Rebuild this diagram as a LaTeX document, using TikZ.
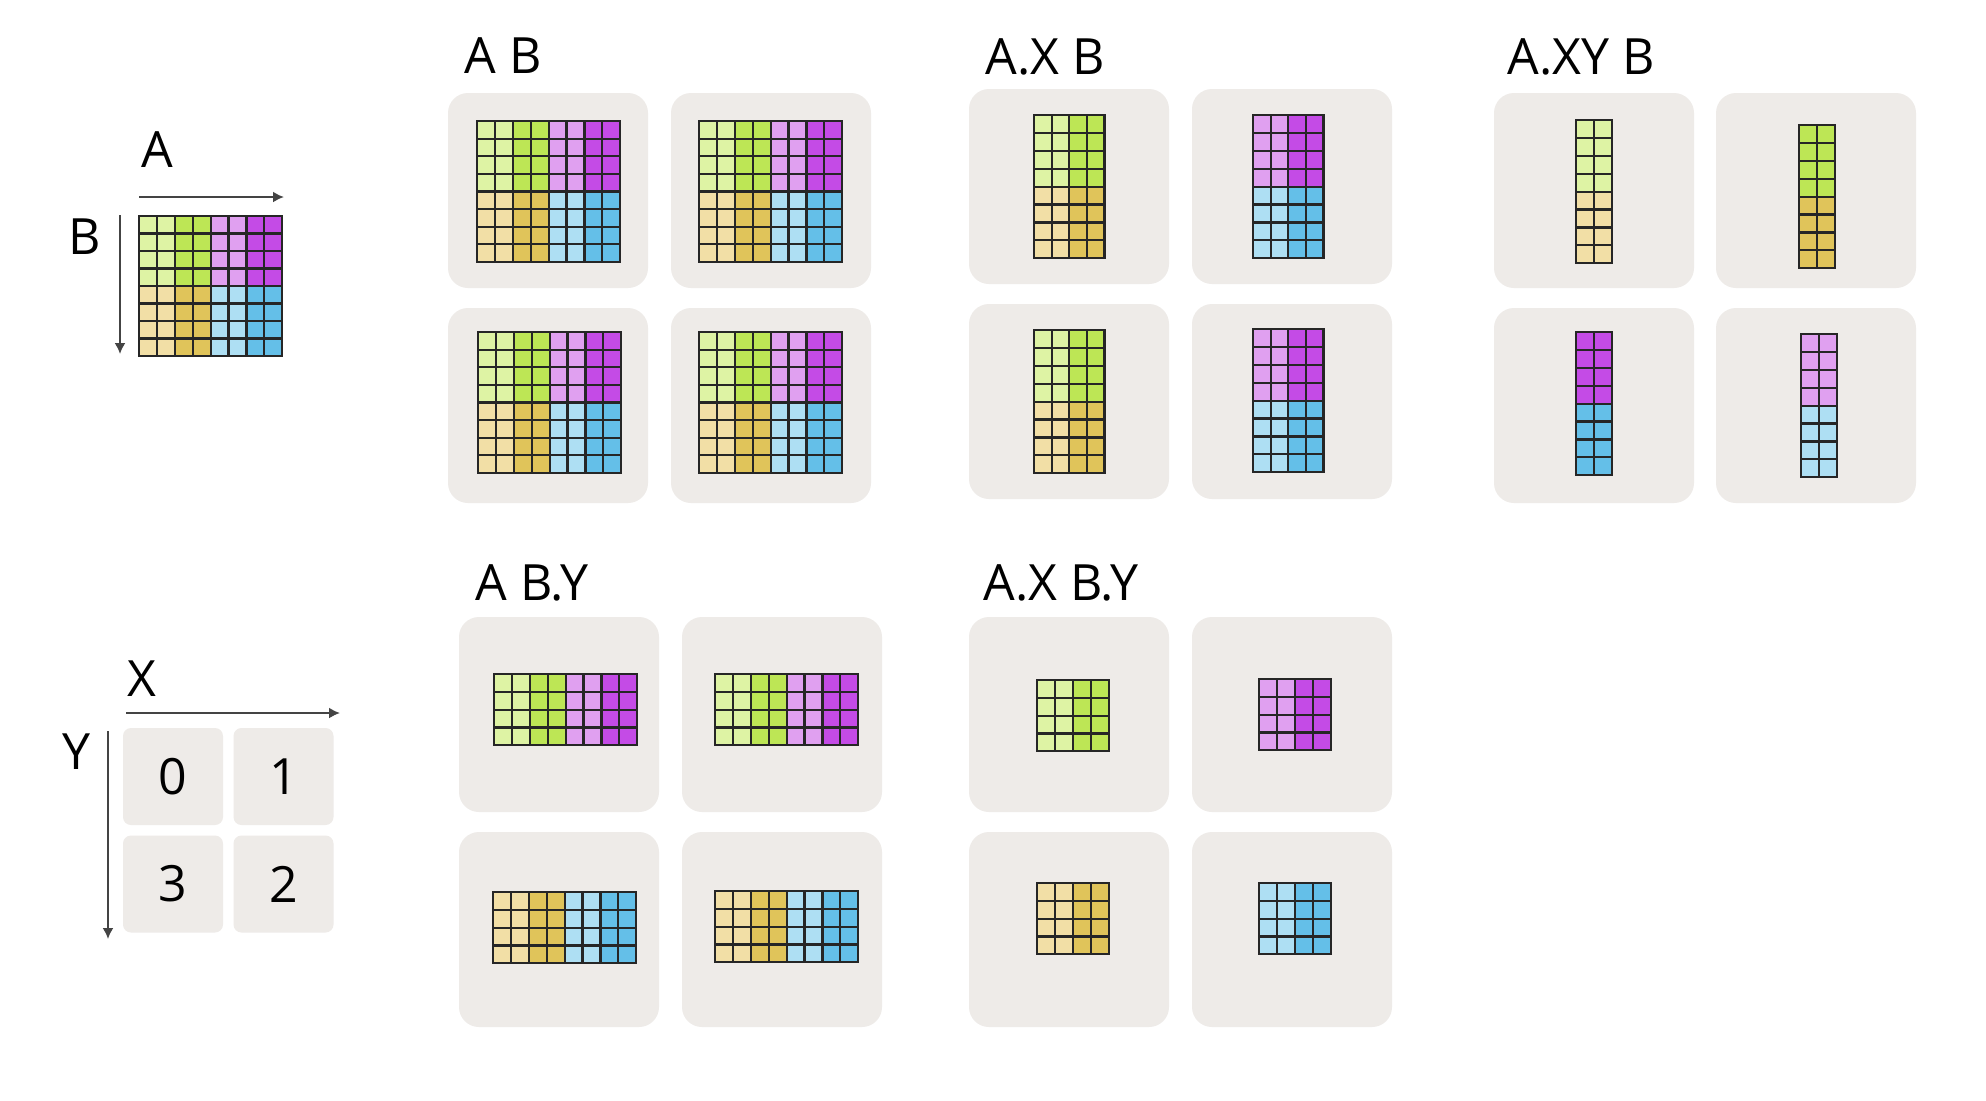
\documentclass[tikz,border=0pt]{standalone}
\usepackage{fontspec}
\setmainfont{Open Sans}
\usetikzlibrary{arrows.meta}
\definecolor{lg}{HTML}{DEF3A4}
\definecolor{dg}{HTML}{BDE655}
\definecolor{lm}{HTML}{E0A0F0}
\definecolor{dm}{HTML}{C44BE6}
\definecolor{ly}{HTML}{F2DFA6}
\definecolor{dy}{HTML}{E0C45A}
\definecolor{lb}{HTML}{AEDFF3}
\definecolor{db}{HTML}{64BFE8}
\definecolor{boxbg}{HTML}{EEEBE8}
\definecolor{axisgray}{HTML}{444444}
\newcommand\tgrid[7]{%
  \foreach \bx/\by/\bc in {#7}{%
    \fill[\bc] ({#1+\bx*2*#3},{#2+\by*4*#4}) rectangle ++({2*#3},{4*#4});}
  \foreach \ii in {0,...,#5}{\draw[gridline] ({#1+\ii*#3},#2) -- ++(0,{#6*#4});}
  \foreach \jj in {0,...,#6}{\draw[gridline] (#1,{#2+\jj*#4}) -- ++({#5*#3},0);}
  \draw[gridline, line width=1.25pt] (#1,#2) rectangle ++({#5*#3},{#6*#4});
}
\newcommand\tile[2]{\fill[boxbg, rounded corners=10pt] (#1,#2) rectangle ++(200,195);}
\begin{document}
\begin{tikzpicture}[x=0.5pt,y=-0.5pt,
  gridline/.style={draw=black!85, line width=1.1pt, line cap=rect},
  lbl/.style={inner sep=0pt, font=\fontsize{25}{30}\selectfont},
  title/.style={lbl, anchor=base west},
  axis/.style={draw=axisgray, line width=1pt, -{Latex[length=5.5pt,width=5.5pt]}},
  dbox/.style={fill=boxbg, rounded corners=4pt, minimum width=50pt, minimum height=48.5pt, inner sep=0pt, font=\fontsize{25}{30}\selectfont}]
\useasboundingbox (0,0) rectangle (1986,1100);
\fill[white] (0,0) rectangle (1986,1100);

% ---------- legend A/B ----------
\node[lbl] (lA) at (157,150) {A};
\node[lbl] (lB) at (85,236.5) {B};
\coordinate (a0) at (139,197); \coordinate (a1) at (284,197);
\coordinate (b0) at (120,215); \coordinate (b1) at (120,354);
\draw[axis] (a0) -- (a1);
\draw[axis] (b0) -- (b1);
\tgrid{139}{216}{17.9}{17.5}{8}{8}{0/0/lg,1/0/dg,2/0/lm,3/0/dm,0/1/ly,1/1/dy,2/1/lb,3/1/db}

% ---------- legend X/Y ----------
\node[lbl] (lX) at (142,678.5) {X};
\node[lbl] (lY) at (77,751.5) {Y};
\coordinate (x0) at (126,713); \coordinate (x1) at (340,713);
\coordinate (y0) at (108,731); \coordinate (y1) at (108,939);
\draw[axis] (x0) -- (x1);
\draw[axis] (y0) -- (y1);
\node[dbox] (d0) at (173,776.5) {0};
\node[dbox] (d1) at (283.5,776.5) {1};
\node[dbox] (d3) at (173,884) {3};
\node[dbox] (d2) at (283.5,884) {2};

% ---------- A B ----------
\node[title] (tAB) at (464,73) {A B};
\tile{448}{93}\tile{671}{93}\tile{448}{308}\tile{671}{308}
\tgrid{477}{121}{17.9}{17.6}{8}{8}{0/0/lg,1/0/dg,2/0/lm,3/0/dm,0/1/ly,1/1/dy,2/1/lb,3/1/db}
\tgrid{699}{121}{17.9}{17.6}{8}{8}{0/0/lg,1/0/dg,2/0/lm,3/0/dm,0/1/ly,1/1/dy,2/1/lb,3/1/db}
\tgrid{478}{332}{17.9}{17.6}{8}{8}{0/0/lg,1/0/dg,2/0/lm,3/0/dm,0/1/ly,1/1/dy,2/1/lb,3/1/db}
\tgrid{699}{332}{17.9}{17.6}{8}{8}{0/0/lg,1/0/dg,2/0/lm,3/0/dm,0/1/ly,1/1/dy,2/1/lb,3/1/db}

% ---------- A.X B ----------
\node[title] (tAXB) at (985,74) {A.X B};
\tile{969}{89}\tile{1192}{89}\tile{969}{304}\tile{1192}{304}
\tgrid{1034}{115}{17.6}{17.9}{4}{8}{0/0/lg,1/0/dg,0/1/ly,1/1/dy}
\tgrid{1253}{115}{17.6}{17.9}{4}{8}{0/0/lm,1/0/dm,0/1/lb,1/1/db}
\tgrid{1034}{330}{17.6}{17.9}{4}{8}{0/0/lg,1/0/dg,0/1/ly,1/1/dy}
\tgrid{1253}{329}{17.6}{17.9}{4}{8}{0/0/lm,1/0/dm,0/1/lb,1/1/db}

% ---------- A.XY B ----------
\node[title] (tAXYB) at (1507,74) {A.XY B};
\tile{1494}{93}\tile{1716}{93}\tile{1494}{308}\tile{1716}{308}
\tgrid{1576}{120}{18}{17.9}{2}{8}{0/0/lg,0/1/ly}
\tgrid{1799}{125}{18}{17.9}{2}{8}{0/0/dg,0/1/dy}
\tgrid{1576}{332}{18}{17.9}{2}{8}{0/0/dm,0/1/db}
\tgrid{1801}{334}{18}{17.9}{2}{8}{0/0/lm,0/1/lb}

% ---------- A B.Y ----------
\node[title] (tABY) at (475,600) {A B.Y};
\tile{459}{617}\tile{682}{617}\tile{459}{832}\tile{682}{832}
\tgrid{494}{674}{17.9}{17.8}{8}{4}{0/0/lg,1/0/dg,2/0/lm,3/0/dm}
\tgrid{715}{674}{17.9}{17.8}{8}{4}{0/0/lg,1/0/dg,2/0/lm,3/0/dm}
\tgrid{493}{892}{17.9}{17.8}{8}{4}{0/0/ly,1/0/dy,2/0/lb,3/0/db}
\tgrid{715}{891}{17.9}{17.8}{8}{4}{0/0/ly,1/0/dy,2/0/lb,3/0/db}

% ---------- A.X B.Y ----------
\node[title] (tAXBY) at (983,600) {A.X B.Y};
\tile{969}{617}\tile{1192}{617}\tile{969}{832}\tile{1192}{832}
\tgrid{1037}{680}{18}{17.8}{4}{4}{0/0/lg,1/0/dg}
\tgrid{1259}{679}{18}{17.8}{4}{4}{0/0/lm,1/0/dm}
\tgrid{1037}{883}{18}{17.8}{4}{4}{0/0/ly,1/0/dy}
\tgrid{1259}{883}{18}{17.8}{4}{4}{0/0/lb,1/0/db}
\end{tikzpicture}
\end{document}
